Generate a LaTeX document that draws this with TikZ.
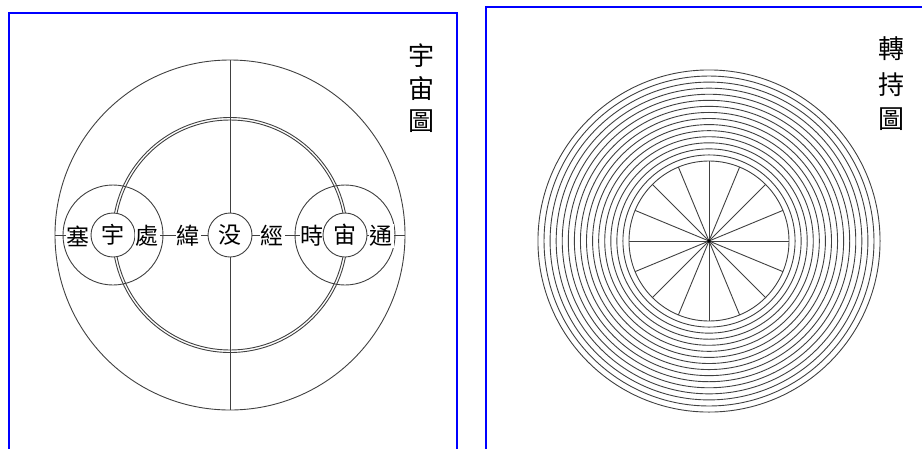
\documentclass[tikz,border=0pt]{standalone}
\usepackage{fontspec}
\newfontfamily\cjk{Noto Sans CJK TC}
\begin{document}
\begin{tikzpicture}[x=1pt,y=-1pt,
  ln/.style={draw=black!75,line width=0.9pt},
  frame/.style={draw=blue,line width=1.5pt},
  lbl/.style={font=\cjk\fontsize{23}{23}\selectfont,fill=white,inner sep=1pt},
  ring/.style={ln,circle,fill=white,minimum size=44pt,inner sep=0pt,font=\cjk\fontsize{23}{23}\selectfont},
  title/.style={font=\cjk\fontsize{26}{26}\selectfont,inner sep=0pt}]
\useasboundingbox (0,0) rectangle (922,448);
% frames
\draw[frame] (9,449) -- (9,13) -- (457,13) -- (457,449);
\draw[frame] (486,449) -- (486,7) -- (923,7);
% ---------- left: 宇宙圖 ----------
\coordinate (O) at (230,235);
\coordinate (L) at (113,235);
\coordinate (R) at (345,235);
\draw[ln] (O) circle[radius=175];
\draw[ln] (O) circle[radius=115];
\draw[ln] (O) circle[radius=117.5];
\draw[ln] (L) circle[radius=50];
\draw[ln] (R) circle[radius=50];
\coordinate (ow) at (55,235);
\coordinate (oe) at (405,235);
\coordinate (on) at (230,60);
\coordinate (os) at (230,410);
\draw[ln] (ow) -- (oe);
\draw[ln] (on) -- (os);
\node[lbl] (sai) at (78,236) {塞};
\node[ring] (yu) at (L) {宇};
\node[lbl] (chu) at (147,236) {處};
\node[lbl] (wei) at (188,236) {緯};
\node[ring] (mo) at (O) {没};
\node[lbl] (jing) at (272,236) {經};
\node[lbl] (shi) at (312,236) {時};
\node[ring] (zhou) at (R) {宙};
\node[lbl] (tong) at (381,236) {通};
\node[title] (t1a) at (421,56) {宇};
\node[title] (t1b) at (421,88) {宙};
\node[title] (t1c) at (421,121) {圖};
% ---------- right: 轉持圖 ----------
\coordinate (C) at (709,241);
\foreach \i in {0,...,15} {
  \draw[ln] (C) circle[radius={80+\i*6.07}];
}
\foreach \a in {0,22.5,...,337.5} {
  \draw[ln] (C) -- ++(\a:80);
}
\fill[black] (C) circle[radius=1.8];
\node[title] (t2a) at (891,49) {轉};
\node[title] (t2b) at (891,85) {持};
\node[title] (t2c) at (891,119) {圖};
\end{tikzpicture}
\end{document}
